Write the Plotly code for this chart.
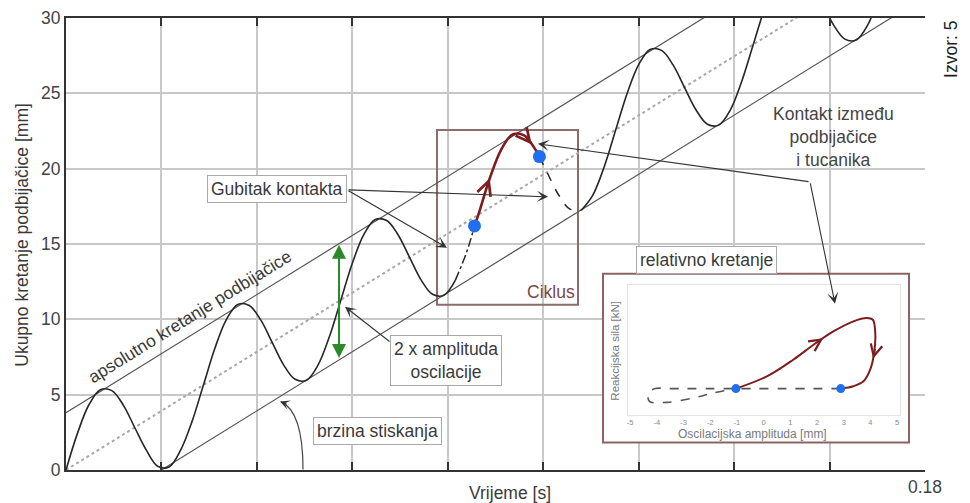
import plotly.graph_objects as go

# ---------------- data ----------------
# main oscillating curve (time [s], total displacement [mm]) split by line style
t_solid_a = [0, .0024, .0048, .0072, .0096, .012, .0144, .0168, .0192, .0216, .024, .0264,
             .0288, .0312, .0336, .036, .0384, .0408, .0432, .0456, .048, .0504, .0528, .0552,
             .0576, .06, .0624, .0648, .0672, .0696, .072, .0744, .0768, .0792, .0816]
y_solid_a = [0, 2.43, 4.33, 5.33, 5.27, 4.31, 2.82, 1.33, 0.25, 0.2, 1.31, 3.21,
             5.64, 8.08, 9.98, 10.98, 10.92, 9.96, 8.47, 6.98, 6.02, 5.96, 6.96, 8.86,
             11.29, 13.72, 15.62, 16.62, 16.56, 15.60, 14.11, 12.62, 11.66, 11.60, 12.60]
t_dashdot = [.0816, .084, .0856]
y_dashdot = [12.60, 14.50, 16.2]
t_red = [.0856, .0864, .0888, .0912, .0936, .096, .0984, .0992]
y_red = [16.2, 16.93, 19.36, 21.27, 22.27, 22.21, 21.25, 20.8]
t_dash = [.0992, .1008, .1032, .1056, .108]
y_dash = [20.8, 19.76, 18.27, 17.31, 17.25]
t_solid_e = [.108, .1104, .1128, .1152, .1176, .12, .1224, .1248, .1272, .1296, .132, .1344,
             .1368, .1392, .1416, .144, .1464, .1488, .1512, .1536, .156, .1584, .1608, .1632,
             .1656, .168, .1704, .1728]
y_solid_e = [17.25, 18.25, 20.15, 22.58, 25.01, 26.91, 27.91, 27.85, 26.89, 25.40, 23.91, 22.95,
             22.89, 23.89, 25.80, 28.22, 30.65, 32.55, 33.56, 33.50, 32.54, 31.05, 29.56, 28.60,
             28.54, 29.54, 31.44, 33.87]
# contact points
t_contact = [.0856, .0992]
y_contact = [16.2, 20.8]
# envelope lines
t_upper = [0, 0.18]
y_upper = [3.8, 39.1]
t_lower = [0.02, 0.18]
y_lower = [0, 31.4]
t_center = [0, 0.18]
y_center = [0, 35.3]

# axis ticks
x_tickvals = [0, .02, .04, .06, .08, .10, .12, .14, .16, .18]
x_ticktext = ['', '', '', '', '', '', '', '', '', '0.18']
y_tickvals = [0, 5, 10, 15, 20, 25, 30]
y_ticktext = ['0', '5', '10', '15', '20', '25', '30']

# inset: relative motion (oscillation amplitude [mm], reaction force)
in_red_x = [-1.04, 0.12, 1.12, 1.87, 2.61, 3.36, 3.87, 4.09, 4.18, 4.14, 3.99, 3.74, 3.36, 2.89]
in_red_y = [0, 0.47, 1.12, 1.69, 2.2, 2.59, 2.72, 2.65, 2.15, 1.38, 0.73, 0.28, 0.09, 0]
in_dash_x = [2.89, -3.5, -4.06, -4.31, -4.28, -3.62, -2.63, -1.88, -1.04]
in_dash_y = [0, 0, 0, -0.17, -0.49, -0.53, -0.36, -0.17, 0]
in_dot_x = [-1.04, 2.89]
in_dot_y = [0, 0]
in_tickvals = [-5, -4, -3, -2, -1, 0, 1, 2, 3, 4, 5]
in_ticktext = ['-5', '-4', '-3', '-2', '-1', '0', '1', '2', '3', '4', '5']

# ---------------- helpers (layout placement in window pixels) ----------------
PAGE = 8                        # default page margin around the figure
L, R, T, B = 66, 925, 18, 470.5  # plot area in window pixels
FIG_W, FIG_H = 970 - PAGE, 503 - PAGE
def dx(px):
    return (px - L) / (R - L) * 0.18
def dy(py):
    return (B - py) / (B - T) * 30
def pxp(px):
    return (px - L) / (R - L)
def pyp(py):
    return (B - py) / (B - T)

FONT = "Liberation Sans, Arial, sans-serif"
TXT = "#3a3a3a"
CURVE = "#262626"
RED = "#7d1d1d"
BLUE = "#1f6ff0"

fig = go.Figure()
fig.add_trace(go.Scatter(x=t_center, y=y_center, mode="lines",
                         line=dict(color="#a8a8a8", width=2, dash="dot"), hoverinfo="skip"))
fig.add_trace(go.Scatter(x=t_upper, y=y_upper, mode="lines",
                         line=dict(color="#555555", width=1.2), hoverinfo="skip"))
fig.add_trace(go.Scatter(x=t_lower, y=y_lower, mode="lines",
                         line=dict(color="#555555", width=1.2), hoverinfo="skip"))
fig.add_trace(go.Scatter(x=t_solid_a, y=y_solid_a, mode="lines", line_shape="spline",
                         line=dict(color=CURVE, width=1.6)))
fig.add_trace(go.Scatter(x=t_dashdot, y=y_dashdot, mode="lines", line_shape="spline",
                         line=dict(color=CURVE, width=1.5, dash="dashdot")))
fig.add_trace(go.Scatter(x=t_red, y=y_red, mode="lines", line_shape="spline",
                         line=dict(color=RED, width=2.6)))
fig.add_trace(go.Scatter(x=t_dash, y=y_dash, mode="lines", line_shape="spline",
                         line=dict(color=CURVE, width=1.5, dash="dash")))
fig.add_trace(go.Scatter(x=t_solid_e, y=y_solid_e, mode="lines", line_shape="spline",
                         line=dict(color=CURVE, width=1.6)))
fig.add_trace(go.Scatter(x=t_contact, y=y_contact, mode="markers",
                         marker=dict(color=BLUE, size=13)))

# inset traces
fig.add_trace(go.Scatter(x=in_dash_x, y=in_dash_y, mode="lines", line_shape="spline",
                         line=dict(color="#555555", width=1.6, dash="dash"),
                         xaxis="x2", yaxis="y2"))
fig.add_trace(go.Scatter(x=in_red_x, y=in_red_y, mode="lines", line_shape="spline",
                         line=dict(color=RED, width=2), xaxis="x2", yaxis="y2"))
fig.add_trace(go.Scatter(x=in_dot_x, y=in_dot_y, mode="markers",
                         marker=dict(color=BLUE, size=9), xaxis="x2", yaxis="y2"))

shapes = [
    # white inset panel (covers grid, below traces)
    dict(type="rect", xref="x", yref="y", x0=dx(603), x1=dx(909), y0=dy(443), y1=dy(274),
         fillcolor="white", line=dict(color="#8a6464", width=2), layer="between"),
    # Ciklus frame
    dict(type="rect", xref="x", yref="y", x0=dx(437), x1=dx(578), y0=dy(305), y1=dy(130),
         fillcolor="rgba(0,0,0,0)", line=dict(color="#8c6c6c", width=2), layer="between"),
    # arc for brzina stiskanja
    dict(type="path", xref="x", yref="y",
         path=f"M {dx(303)},{dy(470)} Q {dx(303)},{dy(412)} {dx(281)},{dy(402)}",
         line=dict(color="#444444", width=1.2), layer="above"),
]

ann = []
def text(txt, x, y, ref="data", size=17.5, color=TXT, angle=0, **kw):
    if ref == "data":
        xx, yy, xr, yr = dx(x), dy(y), "x", "y"
    else:
        xx, yy, xr, yr = pxp(x), pyp(y), "paper", "paper"
    d = dict(text=txt, x=xx, y=yy, xref=xr, yref=yr, showarrow=False, textangle=angle,
             xanchor="center", yanchor="middle",
             font=dict(family=FONT, size=size, color=color))
    d.update(kw)
    ann.append(d)
def box(txt, cx, cy):
    text(txt, cx, cy, bgcolor="white", bordercolor="#a8a8a8", borderwidth=1, borderpad=3)
def arrow(hx, hy, tx, ty, color="#333333", head=3, size=1.7, width=1.1):
    ann.append(dict(text="", x=dx(hx), y=dy(hy), ax=dx(tx), ay=dy(ty), xref="x", yref="y",
                    axref="x", ayref="y", showarrow=True, arrowhead=head, arrowsize=size,
                    arrowwidth=width, arrowcolor=color))

# arrows
arrow(548, 197, 347, 190)
arrow(447, 248, 347, 190)
arrow(538, 144, 810, 182)
arrow(835, 304, 810, 182)
arrow(345, 307, 391, 343)
# green double arrow (2 x amplitude)
ann.append(dict(text="", x=dx(339), y=dy(245), ax=dx(339), ay=dy(360), xref="x", yref="y",
                axref="x", ayref="y", showarrow=True, arrowhead=2, startarrowhead=2,
                arrowside="end+start", arrowsize=1.4, startarrowsize=1.4, arrowwidth=2,
                arrowcolor="#2a8a2a"))
# arc arrowhead
ann.append(dict(text="", x=dx(280), y=dy(402), ax=8, ay=3, xref="x", yref="y",
                showarrow=True, arrowhead=3, arrowsize=1.5, arrowwidth=1.1, arrowcolor="#333333"))
# chevrons on red trajectory (main)
ann.append(dict(text="", x=.0888, y=19.36, ax=-4.5, ay=12.5, xref="x", yref="y",
                showarrow=True, arrowhead=5, arrowsize=2.3, arrowwidth=1.2, arrowcolor=RED))
ann.append(dict(text="", x=.0976, y=21.6, ax=-8, ay=-10, xref="x", yref="y",
                showarrow=True, arrowhead=5, arrowsize=2.3, arrowwidth=1.2, arrowcolor=RED))
# chevrons in inset
ann.append(dict(text="", x=2.23, y=1.94, ax=-11, ay=7.4, xref="x2", yref="y2",
                showarrow=True, arrowhead=5, arrowsize=2.1, arrowwidth=1.1, arrowcolor=RED))
ann.append(dict(text="", x=4.1, y=1.15, ax=2.7, ay=-11, xref="x2", yref="y2",
                showarrow=True, arrowhead=5, arrowsize=2.1, arrowwidth=1.1, arrowcolor=RED))

# boxed labels
box("Gubitak kontakta", 276.5, 189)
box("2 x amplituda<br>oscilacije", 446, 360.5)
box("brzina stiskanja", 377, 431.5)
box("relativno kretanje", 706, 260)

# plain labels
text("Ciklus", 551, 292, color="#7b4848")
text("Kontakt između<br>podbijačice<br>i tucanika", 833, 137, color="#444444", align="center")
text("apsolutno kretanje podbijačice", 189, 317, angle=-31.8)
# axis titles
text("Ukupno kretanje podbijačice [mm]", 22, 235, ref="paper", angle=-90)
text("Vrijeme [s]", 510, 494, ref="paper")
text("Izvor: 5", 951, 50, ref="paper", angle=-90, color="#222222")
# inset axis titles
text("Oscilacijska amplituda [mm]", 752, 434, ref="paper", size=12, color="#7a7a7a")
text("Reakcijska sila [kN]", 615, 351, ref="paper", size=11.5, color="#7a7a7a", angle=-90)

fig.update_layout(
    width=FIG_W, height=FIG_H,
    margin=dict(l=L - PAGE, r=FIG_W - (R - PAGE), t=T - PAGE, b=FIG_H - (B - PAGE),
                autoexpand=False),
    paper_bgcolor="white", plot_bgcolor="white",
    showlegend=False,
    font=dict(family=FONT, size=17.5, color="#444444"),
    xaxis=dict(range=[0, 0.18], tickvals=x_tickvals, ticktext=x_ticktext, automargin=False,
               showgrid=True, gridcolor="#c8c8c8", gridwidth=2, zeroline=False,
               showline=True, linecolor="#333333", linewidth=2, mirror="ticks",
               ticks="inside", ticklen=8, tickwidth=2, tickcolor="#333333",
               tickfont=dict(family=FONT, size=17.5, color="#444444")),
    yaxis=dict(range=[0, 30], tickvals=y_tickvals, ticktext=y_ticktext, automargin=False,
               showgrid=True, gridcolor="#c8c8c8", gridwidth=2, zeroline=False,
               showline=True, linecolor="#333333", linewidth=2, ticks="",
               tickfont=dict(family=FONT, size=17.5, color="#444444")),
    xaxis2=dict(domain=[pxp(627.5), pxp(899.8)], anchor="y2", range=[-5.1, 5.1],
                automargin=False,
                tickvals=in_tickvals, ticktext=in_ticktext, showgrid=False, zeroline=False,
                showline=True, mirror=True, linecolor="#e4e4e4", linewidth=1, ticks="",
                tickfont=dict(family=FONT, size=7.5, color="#8a8a8a")),
    yaxis2=dict(domain=[pyp(415), pyp(285)], anchor="x2", range=[-1, 4], automargin=False,
                showticklabels=False, showgrid=False, zeroline=False,
                showline=True, mirror=True, linecolor="#e4e4e4", linewidth=1, ticks=""),
    shapes=shapes,
    annotations=ann,
)

fig.write_html("out.html")
